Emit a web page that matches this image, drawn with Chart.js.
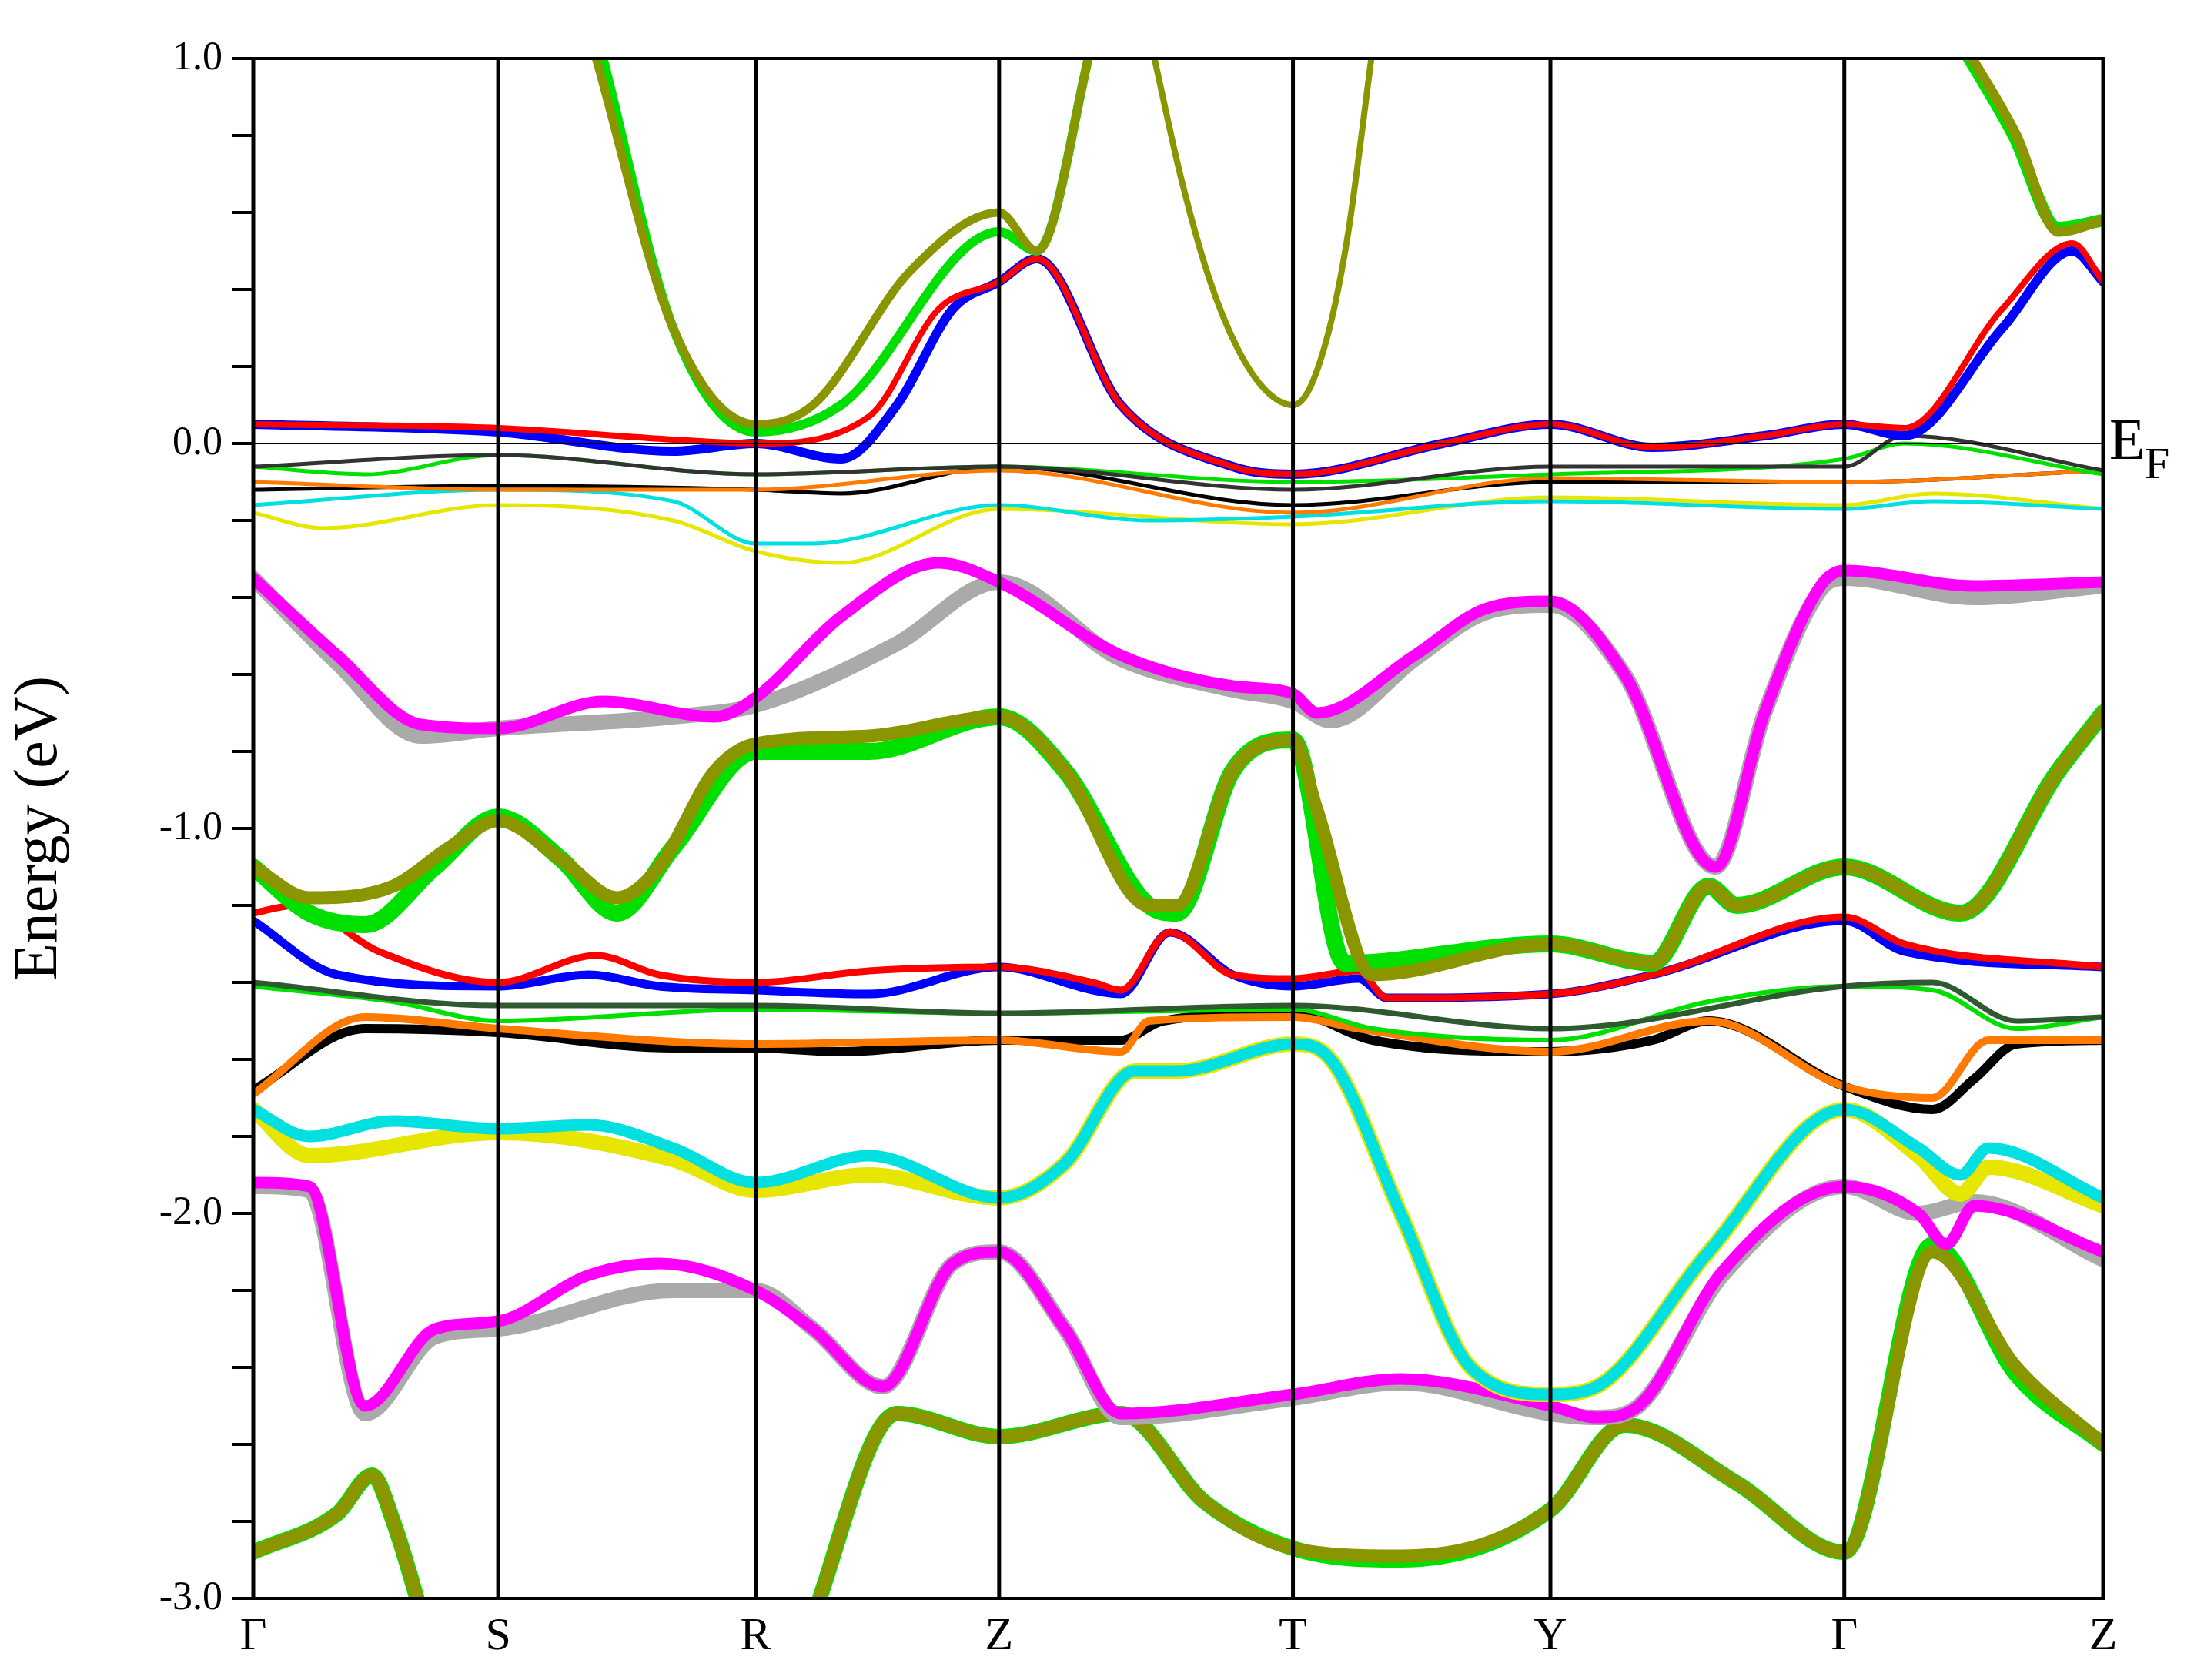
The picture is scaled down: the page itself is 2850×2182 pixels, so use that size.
<!DOCTYPE html>
<html><head><meta charset="utf-8">
<script src="https://cdn.jsdelivr.net/npm/chart.js@4/dist/chart.umd.min.js"></script>
<style>html,body{margin:0;padding:0;background:#fff}canvas{display:block}</style>
</head><body>
<div style="width:2850px;height:2182px"><canvas id="c" width="2850" height="2182"></canvas></div>
<script>
const kPos = [0,175,359,533,743,927,1137,1322];
const kLabels = ['Γ','S','R','Z','T','Y','Γ','Z'];
const yTickLabels = ['1.0','0.0','-1.0','-2.0','-3.0'];
const SERIF = "'Liberation Serif', 'DejaVu Serif', serif";

// near-Fermi flat bands
const nfDarkGray=[[0,-0.06],[175,-0.03],[359,-0.08],[533,-0.06],[743,-0.12],[927,-0.06],[1137,-0.06],[1180,0.02],[1322,-0.07]];
const nfGreen=[[0,-0.06],[80,-0.08],[175,-0.03],[359,-0.08],[533,-0.06],[743,-0.1],[927,-0.08],[1137,-0.04],[1180,0.0],[1322,-0.08]];
const nfOrange=[[0,-0.1],[175,-0.12],[359,-0.12],[533,-0.07],[743,-0.18],[927,-0.09],[1137,-0.1],[1322,-0.07]];
const nfBlack=[[0,-0.12],[175,-0.11],[359,-0.12],[420,-0.13],[533,-0.06],[743,-0.16],[927,-0.1],[1137,-0.1],[1322,-0.07]];
const nfYellow=[[0,-0.18],[50,-0.22],[175,-0.16],[300,-0.2],[359,-0.28],[420,-0.31],[533,-0.17],[743,-0.21],[927,-0.14],[1137,-0.16],[1200,-0.13],[1322,-0.17]];
const nfCyan=[[0,-0.16],[175,-0.12],[300,-0.15],[359,-0.26],[400,-0.26],[533,-0.16],[640,-0.2],[743,-0.19],[927,-0.15],[1137,-0.17],[1200,-0.15],[1322,-0.17]];
// conduction-ish bands
const cbBlue=[[0,0.05],[175,0.03],[300,-0.02],[359,0.0],[420,-0.04],[460,0.1],[500,0.35],[533,0.42],[560,0.48],[620,0.1],[700,-0.06],[743,-0.08],[850,0.0],[927,0.05],[1000,-0.01],[1080,0.02],[1137,0.05],[1180,0.02],[1250,0.3],[1300,0.5],[1322,0.42]];
const cbRed=[[0,0.05],[175,0.04],[300,0.01],[359,0.0],[440,0.07],[490,0.35],[533,0.42],[560,0.48],[620,0.1],[700,-0.06],[743,-0.08],[850,0.0],[927,0.05],[1000,-0.01],[1080,0.02],[1137,0.05],[1180,0.04],[1250,0.35],[1300,0.52],[1322,0.42]];
const cbGreen=[[250,1.0],[300,0.3],[359,0.03],[420,0.1],[533,0.55],[560,0.5],[600,1.05]];
const cbOlive=[[245,1.0],[300,0.3],[359,0.05],[400,0.1],[470,0.45],[533,0.6],[560,0.5],[600,1.05]];
const cbParab=[[644,1.0],[663,0.69],[683,0.43],[703,0.25],[723,0.14],[743,0.1],[753,0.13],[763,0.22],[773,0.36],[783,0.56],[799,1.0]];
const cbOliveR=[[1220,1.05],[1260,0.8],[1290,0.55],[1322,0.58]];
const cbGreenR=[[1218,1.05],[1258,0.8],[1290,0.56],[1322,0.58]];
// upper valence
const vbGray1=[[0,-0.35],[60,-0.57],[120,-0.76],[175,-0.74],[300,-0.71],[359,-0.68],[460,-0.52],[533,-0.36],[620,-0.56],[700,-0.64],[743,-0.67],[770,-0.72],[830,-0.56],[880,-0.44],[927,-0.42],[980,-0.6],[1045,-1.1],[1080,-0.7],[1120,-0.38],[1137,-0.35],[1230,-0.4],[1322,-0.37]];
const vbMagenta1=[[0,-0.35],[60,-0.55],[120,-0.73],[175,-0.74],[250,-0.67],[330,-0.71],[359,-0.66],[420,-0.45],[490,-0.31],[533,-0.36],[620,-0.55],[700,-0.63],[743,-0.65],[760,-0.7],[830,-0.55],[880,-0.43],[927,-0.41],[980,-0.6],[1045,-1.1],[1080,-0.7],[1120,-0.37],[1137,-0.33],[1230,-0.37],[1322,-0.36]];
const vbGreen2=[[0,-1.1],[40,-1.22],[80,-1.25],[130,-1.1],[175,-0.97],[220,-1.08],[260,-1.22],[300,-1.05],[359,-0.8],[440,-0.8],[533,-0.71],[580,-0.85],[640,-1.2],[660,-1.22],[700,-0.85],[743,-0.77],[780,-1.35],[927,-1.3],[1000,-1.35],[1040,-1.15],[1060,-1.2],[1137,-1.1],[1220,-1.22],[1290,-0.85],[1322,-0.7]];
const vbOlive2=[[0,-1.1],[40,-1.18],[100,-1.15],[140,-1.05],[175,-0.98],[220,-1.08],[260,-1.18],[290,-1.1],[330,-0.85],[359,-0.78],[440,-0.76],[533,-0.71],[580,-0.85],[640,-1.2],[660,-1.2],[700,-0.85],[743,-0.77],[760,-0.95],[800,-1.38],[927,-1.3],[1000,-1.35],[1040,-1.15],[1060,-1.2],[1137,-1.1],[1220,-1.22],[1290,-0.85],[1322,-0.7]];
const vbBlue3=[[0,-1.24],[60,-1.38],[175,-1.41],[240,-1.38],[290,-1.41],[359,-1.42],[440,-1.43],[533,-1.36],[600,-1.42],[620,-1.43],[655,-1.27],[700,-1.38],[743,-1.41],[790,-1.39],[810,-1.44],[927,-1.43],[1000,-1.38],[1137,-1.24],[1180,-1.32],[1322,-1.36]];
const vbRed3=[[0,-1.22],[30,-1.2],[90,-1.32],[175,-1.4],[245,-1.33],[290,-1.38],[359,-1.4],[440,-1.37],[533,-1.36],[600,-1.4],[620,-1.42],[655,-1.27],[700,-1.38],[743,-1.39],[790,-1.37],[810,-1.44],[927,-1.43],[1000,-1.38],[1137,-1.23],[1180,-1.3],[1322,-1.36]];
const vbGreen4=[[0,-1.41],[100,-1.45],[175,-1.5],[359,-1.47],[533,-1.48],[743,-1.47],[800,-1.52],[927,-1.55],[1040,-1.45],[1137,-1.41],[1200,-1.42],[1260,-1.52],[1322,-1.49]];
const vbDarkGreen4=[[0,-1.4],[175,-1.46],[359,-1.46],[533,-1.48],[743,-1.46],[927,-1.52],[1137,-1.41],[1200,-1.4],[1260,-1.5],[1322,-1.49]];
const vbBlack5=[[0,-1.68],[80,-1.52],[175,-1.53],[300,-1.57],[359,-1.57],[420,-1.58],[533,-1.55],[620,-1.55],[650,-1.5],[743,-1.48],[800,-1.55],[927,-1.58],[1000,-1.55],[1040,-1.5],[1137,-1.67],[1200,-1.73],[1230,-1.65],[1260,-1.56],[1322,-1.55]];
const vbOrange5=[[0,-1.69],[80,-1.49],[175,-1.52],[359,-1.56],[533,-1.55],[620,-1.58],[640,-1.5],[743,-1.49],[790,-1.52],[927,-1.58],[1040,-1.5],[1137,-1.67],[1200,-1.7],[1240,-1.55],[1322,-1.55]];
const vbYellow6=[[0,-1.73],[40,-1.85],[175,-1.79],[300,-1.86],[359,-1.94],[440,-1.9],[533,-1.96],[580,-1.87],[630,-1.63],[660,-1.63],[743,-1.56],[770,-1.6],[820,-2.0],[870,-2.4],[927,-2.47],[960,-2.45],[1040,-2.1],[1137,-1.73],[1190,-1.85],[1220,-1.95],[1240,-1.88],[1322,-1.98]];
const vbCyan6=[[0,-1.73],[40,-1.8],[100,-1.76],[175,-1.78],[240,-1.77],[300,-1.83],[359,-1.92],[440,-1.85],[533,-1.96],[580,-1.87],[630,-1.63],[660,-1.63],[743,-1.56],[770,-1.6],[820,-2.0],[870,-2.4],[927,-2.47],[960,-2.45],[1040,-2.1],[1137,-1.73],[1190,-1.83],[1220,-1.9],[1240,-1.83],[1322,-1.96]];
const vbGray7=[[0,-1.93],[40,-1.94],[80,-2.52],[130,-2.32],[175,-2.3],[300,-2.2],[359,-2.2],[400,-2.3],[450,-2.45],[500,-2.13],[533,-2.1],[580,-2.3],[620,-2.53],[743,-2.48],[820,-2.44],[927,-2.52],[960,-2.53],[990,-2.5],[1050,-2.16],[1137,-1.93],[1190,-2.0],[1230,-1.97],[1322,-2.12]];
const vbMagenta7=[[0,-1.92],[40,-1.93],[80,-2.5],[130,-2.3],[175,-2.28],[240,-2.16],[290,-2.13],[359,-2.2],[400,-2.3],[450,-2.45],[500,-2.13],[533,-2.1],[580,-2.3],[620,-2.52],[743,-2.47],[820,-2.43],[927,-2.5],[960,-2.53],[990,-2.5],[1050,-2.15],[1137,-1.93],[1190,-2.0],[1210,-2.08],[1230,-1.98],[1322,-2.1]];
const vbGreen8=[[0,-2.88],[60,-2.78],[85,-2.68],[100,-2.8],[125,-3.1],[null,null],[395,-3.1],[460,-2.52],[533,-2.58],[620,-2.52],[680,-2.75],[743,-2.87],[820,-2.9],[927,-2.77],[980,-2.55],[1060,-2.7],[1137,-2.88],[1200,-2.08],[1260,-2.42],[1322,-2.6]];
const vbOlive8=[[0,-2.88],[60,-2.78],[85,-2.68],[100,-2.8],[125,-3.1],[null,null],[395,-3.1],[460,-2.52],[533,-2.58],[620,-2.52],[680,-2.75],[743,-2.87],[820,-2.89],[927,-2.77],[980,-2.55],[1060,-2.7],[1137,-2.88],[1200,-2.1],[1260,-2.4],[1322,-2.6]];

const C={mag:'#ff00ff',gray:'#aaaaaa',olive:'#8a9600',green:'#00e000',red:'#ff0000',blue:'#0000ff',dg:'#2f5a2f',black:'#000000',orange:'#ff7a00',cyan:'#00e0e0',yellow:'#e6e600',dgray:'#333333'};
const bands=[
 [vbGreen8,C.green,20],[vbOlive8,C.olive,17],
 [vbGray7,C.gray,20],[vbMagenta7,C.mag,15],
 [vbYellow6,C.yellow,20],[vbCyan6,C.cyan,15],
 [vbBlack5,C.black,12],[vbOrange5,C.orange,10],
 [vbGreen4,C.green,6],[vbDarkGreen4,C.dg,7],
 [vbBlue3,C.blue,11],[vbRed3,C.red,9],
 [vbGreen2,C.green,22],[vbOlive2,C.olive,17],
 [vbGray1,C.gray,20],[vbMagenta1,C.mag,15],
 [nfYellow,C.yellow,5],[nfCyan,C.cyan,5],[nfBlack,C.black,5],[nfOrange,C.orange,5],[nfGreen,C.green,5],[nfDarkGray,C.dgray,5],
 [cbBlue,C.blue,12],[cbRed,C.red,8],[cbGreen,C.green,12],[cbOlive,C.olive,11],[cbParab,C.olive,8],[cbGreenR,C.green,16],[cbOliveR,C.olive,13]
];
const N=bands.length;
const datasets=bands.map((b,i)=>({
  data:b[0].map(p=>p[0]===null?{x:null,y:null}:{x:p[0],y:p[1]}),
  borderColor:b[1],borderWidth:b[2],pointRadius:0,fill:false,
  cubicInterpolationMode:'monotone',spanGaps:false,order:N-i,borderCapStyle:'round'
}));

const deco={id:'deco',
 afterDatasetsDraw(ch){
  const {ctx,chartArea:a,scales:{x,y}}=ch;
  ctx.save();
  ctx.strokeStyle='#000';
  ctx.lineWidth=2;
  const y0=y.getPixelForValue(0);
  ctx.beginPath();ctx.moveTo(a.left,y0);ctx.lineTo(a.right,y0);ctx.stroke();
  ctx.lineWidth=5;
  kPos.forEach(k=>{const px=x.getPixelForValue(k);ctx.beginPath();ctx.moveTo(px,a.top);ctx.lineTo(px,a.bottom);ctx.stroke();});
  ctx.lineWidth=4;
  ctx.strokeRect(a.left,a.top,a.right-a.left,a.bottom-a.top);
  ctx.fillStyle='#000';ctx.textBaseline='middle';ctx.textAlign='left';
  ctx.font='76px '+SERIF;
  ctx.fillText('E',a.right+8,y0);
  ctx.font='58px '+SERIF;
  ctx.fillText('F',a.right+54,y0+30);
  ctx.restore();
 }};

new Chart(document.getElementById('c'),{
 type:'line',
 data:{datasets},
 options:{responsive:false,animation:false,devicePixelRatio:1,
  layout:{padding:{left:0,top:76,right:118,bottom:0}},
  plugins:{legend:{display:false},tooltip:{enabled:false}},
  scales:{
   x:{type:'linear',min:0,max:1322,
      afterBuildTicks(s){s.ticks=kPos.map(v=>({value:v}));},
      afterFit(s){s.height=106;},
      grid:{display:false},border:{display:false},
      ticks:{autoSkip:false,maxRotation:0,padding:6,color:'#000',font:{family:SERIF,size:60},
        callback:(v)=>{const i=kPos.indexOf(v);return i>=0?kLabels[i]:'';}}},
   y:{min:-3,max:1,
      afterBuildTicks(s){const t=[];for(let i=0;i<=20;i++)t.push({value:Math.round((1-i*0.2)*10)/10});s.ticks=t;},
      afterFit(s){s.width=329;},
      border:{display:false},
      grid:{drawOnChartArea:false,drawTicks:true,tickLength:28,color:'#000',lineWidth:4},
      ticks:{padding:12,color:'#000',font:{family:SERIF,size:52},
        callback:(v)=>{const r=Math.round(v*10)/10;if(Number.isInteger(r)){const i=[1,0,-1,-2,-3].indexOf(r);return yTickLabels[i];}return '';}},
      title:{display:true,text:'Energy (eV)',color:'#000',font:{family:SERIF,size:80},padding:{bottom:14}}}
  }},
 plugins:[deco]
});
</script>
</body></html>
